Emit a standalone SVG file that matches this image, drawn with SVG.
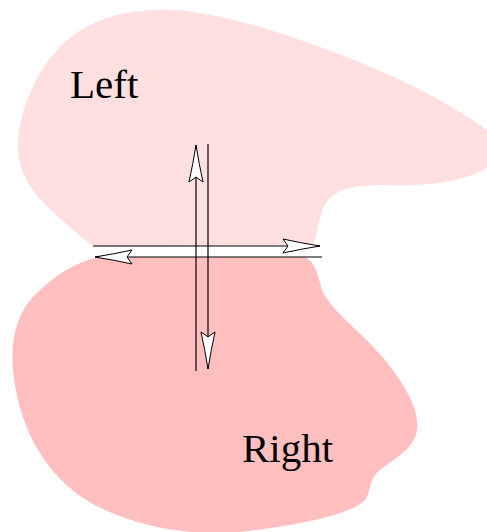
<svg xmlns="http://www.w3.org/2000/svg" width="487" height="532" viewBox="0 0 487 532">
<style>
.lbl{font-family:"Liberation Serif","Times New Roman",serif;font-size:41px;fill:#000}
.ln{stroke:#000;stroke-width:1.2;fill:none}
</style>
<defs>
<marker id="ah" markerUnits="userSpaceOnUse" markerWidth="40" markerHeight="16" refX="37" refY="7" orient="auto" overflow="visible">
<path d="M37,7 Q18,4 0,0 L5,7 L0,14 Q18,10 37,7 Z" fill="#fff" stroke="#000" stroke-width="1"/>
</marker>
</defs>
<g id="left">
<path d="M95,247 L312,245 C318,238 318,215 326,203 C334,190 352,185 385,185 C420,186 460,184 487,168 L487,130 C440,95 360,58 270,30 C220,15 180,7 150,10 C100,14 70,30 45,65 C22,100 14,140 20,163 C26,188 45,205 62,220 C74,231 84,240 95,247 Z" fill="#ffdfdf"/>
<text class="lbl" x="70" y="98">Left</text>
</g>
<g id="right">
<path d="M100,257 L305,257 C315,262 318,275 322,290 C330,310 360,330 385,360 C405,385 420,410 417,430 C414,448 400,455 380,470 C368,480 372,490 365,500 C350,515 300,525 240,532 C200,536 150,530 105,510 C60,490 30,450 18,400 C8,360 10,320 35,295 C55,275 75,262 100,257 Z" fill="#ffbfbf"/>
<text class="lbl" x="242" y="462">Right</text>
</g>
<g id="connectors">
<path class="ln" d="M93,246 L320,246" marker-end="url(#ah)"/>
<path class="ln" d="M322,257 L95,257" marker-end="url(#ah)"/>
<path class="ln" d="M196,371 L196,145" marker-end="url(#ah)"/>
<path class="ln" d="M208,144 L208,369" marker-end="url(#ah)"/>
</g>
</svg>
